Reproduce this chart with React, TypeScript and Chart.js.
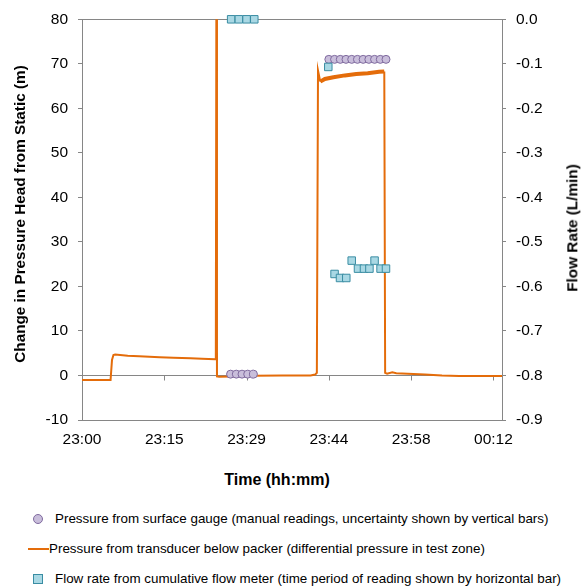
import React, { useEffect, useRef } from "react";
import { Chart, registerables } from "chart.js";

Chart.register(...registerables);

// x positions are minutes after 23:00
const xTickValues = [0, 14.4, 28.8, 43.2, 57.6, 72];
const xTickLabels = ["23:00", "23:15", "23:29", "23:44", "23:58", "00:12"];

const transducerTime = [
  0, 5.0, 5.25, 5.5, 5.8, 8, 10, 13.6, 16, 19, 21, 23.3, 23.42, 23.52, 23.62,
  24, 26, 30, 35, 40, 40.8, 41.1, 41.3, 41.7, 42.5, 44, 46, 48, 50, 52, 52.9,
  53.05, 53.4, 54.3, 55, 57, 60, 63, 66, 70, 73.5,
];
const transducerHead = [
  -1.0, -1.0, 3.5, 4.6, 4.7, 4.45, 4.3, 4.1, 4.0, 3.85, 3.75, 3.65, 3.8, 90, -0.2,
  -0.3, -0.25, -0.05, 0.0, 0.0, 0.2, 0.6, 68.5, 66.0, 66.6, 67.0, 67.4, 67.7, 67.9, 68.2, 68.3,
  0.6, 0.4, 0.7, 0.5, 0.4, 0.2, 0.0, -0.1, -0.1, -0.1,
];

const gaugeTime = [26, 27, 28, 29, 30, 43.2, 44.2, 45.2, 46.2, 47.2, 48.2, 49.2, 50.2, 51.2, 52.2, 53.2];
const gaugeHead = [0.3, 0.3, 0.3, 0.3, 0.3, 71, 71, 71, 71, 71, 71, 71, 71, 71, 71, 71];

const flowTime = [26.1, 27.45, 28.8, 30.15, 43.1, 44.2, 45.15, 46.25, 47.2, 48.3, 49.35, 50.3, 51.2, 52.25, 53.2];
const flowRate = [0, 0, 0, 0, -0.107, -0.572, -0.581, -0.581, -0.542, -0.56, -0.56, -0.56, -0.542, -0.56, -0.56];

const leftTicksMin = -10;
const leftTicksMax = 80;
const rightTicksMin = -0.9;
const rightTicksMax = 0.0;

const FONT = "'Liberation Sans', Arial, sans-serif";
const AXIS_GRAY = "#868686";
const ORANGE = "#E46C0A";
const CIRCLE_FILL = "#C9BEDB";
const CIRCLE_EDGE = "#7F6A9E";
const SQUARE_FILL = "#A9D8E4";
const SQUARE_EDGE = "#3A8DA3";

const zeroLinePlugin = {
  id: "zeroLine",
  beforeDatasetsDraw(chart: any) {
    const { ctx, chartArea } = chart;
    const y = chart.scales.y;
    const x = chart.scales.x;
    const y0 = Math.round(y.getPixelForValue(0)) + 0.5;
    ctx.save();
    ctx.strokeStyle = AXIS_GRAY;
    ctx.lineWidth = 1;
    ctx.beginPath();
    ctx.moveTo(chartArea.left, y0);
    ctx.lineTo(chartArea.right, y0);
    xTickValues.forEach((v) => {
      const px = Math.round(x.getPixelForValue(v)) + 0.5;
      ctx.moveTo(px, y0);
      ctx.lineTo(px, y0 + 5);
    });
    const yt = Math.round(chartArea.top) + 0.5;
    ctx.moveTo(chartArea.left, yt);
    ctx.lineTo(chartArea.right, yt);
    ctx.stroke();
    ctx.restore();
  },
};

export default function App() {
  const ref = useRef<HTMLCanvasElement | null>(null);

  useEffect(() => {
    if (!ref.current) return;
    const chart = new Chart(ref.current, {
      type: "line",
      data: {
        datasets: [
          {
            label: "Flow rate from cumulative flow meter",
            data: flowTime.map((t, i) => ({ x: t, y: flowRate[i] })),
            yAxisID: "y2",
            showLine: false,
            pointStyle: "rect",
            pointRadius: 5.3,
            pointBackgroundColor: SQUARE_FILL,
            pointBorderColor: SQUARE_EDGE,
            pointBorderWidth: 1,
            clip: false,
          } as any,
          {
            label: "Pressure from surface gauge",
            data: gaugeTime.map((t, i) => ({ x: t, y: gaugeHead[i] })),
            yAxisID: "y",
            showLine: false,
            pointStyle: "circle",
            pointRadius: 4,
            pointBackgroundColor: CIRCLE_FILL,
            pointBorderColor: CIRCLE_EDGE,
            pointBorderWidth: 1,
          },
          {
            label: "Pressure from transducer below packer",
            data: transducerTime.map((t, i) => ({ x: t, y: transducerHead[i] })),
            yAxisID: "y",
            borderColor: ORANGE,
            borderWidth: 2,
            pointRadius: 0,
            tension: 0,
            clip: 0,
            segment: {
              borderWidth: (c: any) =>
                c.p0.parsed.x >= 41.6 && c.p1.parsed.x <= 52.95 ? 4 : 2,
            },
          } as any,
        ],
      },
      options: {
        responsive: false,
        animation: false,
        devicePixelRatio: 1,
        layout: { padding: { top: 8, left: 0, right: 0, bottom: 0 } },
        plugins: { legend: { display: false }, tooltip: { enabled: false } },
        scales: {
          x: {
            type: "linear",
            min: 0,
            max: 73.5,
            grid: { display: false, drawTicks: false },
            border: { display: true, color: AXIS_GRAY, width: 1 },
            afterBuildTicks: (s: any) => {
              s.ticks = xTickValues.map((v) => ({ value: v }));
            },
            afterFit: (s: any) => {
              s.height = 40;
            },
            ticks: {
              autoSkip: false,
              maxRotation: 0,
              minRotation: 0,
              padding: 10,
              color: "#000",
              font: { family: FONT, size: 15.5 },
              callback: (_v: any, i: number) => xTickLabels[i],
            },
          },
          y: {
            type: "linear",
            position: "left",
            min: leftTicksMin,
            max: leftTicksMax,
            grid: { drawOnChartArea: false, drawTicks: true, tickLength: 4, color: AXIS_GRAY },
            border: { display: true, color: AXIS_GRAY, width: 1 },
            afterFit: (s: any) => {
              s.width = 82;
            },
            ticks: {
              stepSize: 10,
              padding: 10,
              color: "#000",
              font: { family: FONT, size: 15.5 },
            },
          },
          y2: {
            type: "linear",
            position: "right",
            min: rightTicksMin,
            max: rightTicksMax,
            grid: { drawOnChartArea: false, drawTicks: true, tickLength: 4, color: AXIS_GRAY },
            border: { display: true, color: AXIS_GRAY, width: 1 },
            afterFit: (s: any) => {
              s.width = 81;
            },
            ticks: {
              stepSize: 0.1,
              padding: 10,
              color: "#000",
              font: { family: FONT, size: 15.5 },
              callback: (v: any) => Number(v).toFixed(1),
            },
          },
        },
      },
      plugins: [zeroLinePlugin],
    } as any);
    return () => chart.destroy();
  }, []);

  const titleStyle: React.CSSProperties = {
    position: "absolute",
    fontFamily: FONT,
    fontWeight: "bold",
    fontSize: "15.3px",
    whiteSpace: "nowrap",
    color: "#000",
    lineHeight: 1,
  };
  const legendText: React.CSSProperties = {
    position: "absolute",
    fontFamily: FONT,
    fontSize: "13.4px",
    whiteSpace: "nowrap",
    color: "#000",
    lineHeight: 1,
    transform: "translateY(-50%)",
  };

  return (
    <div
      style={{
        position: "absolute",
        left: 0,
        top: 0,
        width: 583,
        height: 586,
        background: "#fff",
        overflow: "hidden",
      }}
    >
      <canvas ref={ref} width={583} height={460} style={{ position: "absolute", left: 0, top: 0 }} />
      <div style={{ ...titleStyle, left: 20, top: 214, transform: "translate(-50%,-50%) rotate(-90deg)" }}>
        Change in Pressure Head from Static (m)
      </div>
      <div style={{ ...titleStyle, left: 572, top: 228, transform: "translate(-50%,-50%) rotate(-90deg)" }}>
        Flow Rate (L/min)
      </div>
      <div style={{ ...titleStyle, fontSize: "16px", left: 277, top: 480, transform: "translate(-50%,-50%)" }}>
        Time (hh:mm)
      </div>

      <div
        style={{
          position: "absolute",
          left: 33,
          top: 514,
          width: 8,
          height: 8,
          borderRadius: "50%",
          background: CIRCLE_FILL,
          border: `1px solid ${CIRCLE_EDGE}`,
        }}
      />
      <div style={{ ...legendText, left: 55, top: 519 }}>
        Pressure from surface gauge (manual readings, uncertainty shown by vertical bars)
      </div>

      <div style={{ position: "absolute", left: 28, top: 548, width: 21, height: 2, background: ORANGE }} />
      <div style={{ ...legendText, left: 49, top: 549 }}>
        Pressure from transducer below packer (differential pressure in test zone)
      </div>

      <div
        style={{
          position: "absolute",
          left: 33,
          top: 574,
          width: 8,
          height: 8,
          background: SQUARE_FILL,
          border: `1px solid ${SQUARE_EDGE}`,
        }}
      />
      <div style={{ ...legendText, left: 55, top: 579 }}>
        Flow rate from cumulative flow meter (time period of reading shown by horizontal bar)
      </div>
    </div>
  );
}
